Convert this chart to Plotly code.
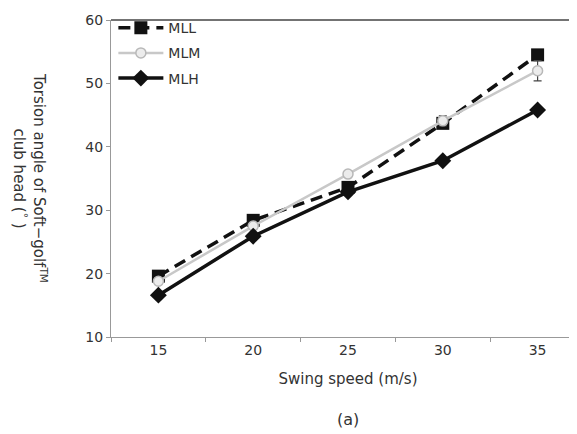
import plotly.graph_objects as go

speeds = ["15", "20", "25", "30", "35"]
mll = [19.6, 28.4, 33.6, 43.7, 54.5]
mlm = [18.8, 27.5, 35.7, 44.1, 52.0]
mlh = [16.6, 25.9, 32.9, 37.8, 45.8]
mlm_err = [0.4, 0.4, 0.5, 0.8, 1.6]
y_ticks = [10, 20, 30, 40, 50, 60]

FONT = "DejaVu Sans"
TXT = "#333333"

fig = go.Figure()
fig.add_trace(go.Scatter(
    x=speeds, y=mll, name="MLL", mode="lines+markers", legendgroup="a",
    line=dict(color="#111111", width=3.5, dash="12px,7px"),
    marker=dict(symbol="square", size=13, color="#111111"),
))
fig.add_trace(go.Scatter(
    x=speeds, y=mlm, name="MLM", mode="lines+markers", legendgroup="b",
    line=dict(color="#c8c8c8", width=2.5),
    marker=dict(symbol="circle", size=10, color="#ececec",
                line=dict(color="#b8b8b8", width=1.5)),
    error_y=dict(type="data", array=mlm_err, color="#444444",
                 thickness=1.2, width=4),
))
fig.add_trace(go.Scatter(
    x=speeds, y=mlh, name="MLH", mode="lines+markers", legendgroup="c",
    line=dict(color="#111111", width=3.5),
    marker=dict(symbol="diamond", size=13, color="#111111"),
))

fig.update_layout(
    width=577, height=434,
    margin=dict(l=103, r=0, t=12, b=105),
    paper_bgcolor="white", plot_bgcolor="white",
    font=dict(family=FONT, size=14, color=TXT),
    showlegend=True,
    legend=dict(x=0.005, y=1.025, xanchor="left", yanchor="top",
                bgcolor="rgba(0,0,0,0)", font=dict(size=14, color=TXT),
                tracegroupgap=4, itemwidth=45),
    xaxis=dict(type="category", range=[-0.5, 4.5], tickson="boundaries",
               ticks="outside", ticklen=4, tickcolor="#999999",
               showline=True, linecolor="#999999", linewidth=1,
               showgrid=False, zeroline=False,
               tickfont=dict(size=14, color=TXT),
               title=dict(text="Swing speed (m/s)", font=dict(size=15, color=TXT),
                          standoff=16)),
    yaxis=dict(range=[10, 60], tickvals=y_ticks,
               ticks="outside", ticklen=4, tickcolor="#999999",
               showline=True, linecolor="#999999", linewidth=1,
               showgrid=False, zeroline=False,
               tickfont=dict(size=14, color=TXT)),
)

fig.add_shape(type="line", xref="paper", yref="paper", x0=0, x1=1, y0=1, y1=1,
              line=dict(color="#444444", width=1.5))

fig.add_annotation(
    text="Torsion angle of Soft−golf<sup>TM</sup><br>club head (<sup>°</sup> )",
    textangle=90, xref="paper", yref="paper", x=-0.17, y=0.5,
    xanchor="center", yanchor="middle", showarrow=False,
    font=dict(size=15, color=TXT), align="center",
)
fig.add_annotation(
    text="(a)", xref="paper", yref="paper", x=0.5, y=-0.26,
    xanchor="center", yanchor="middle", showarrow=False,
    font=dict(size=16, color=TXT),
)

fig.write_html("out.html")
